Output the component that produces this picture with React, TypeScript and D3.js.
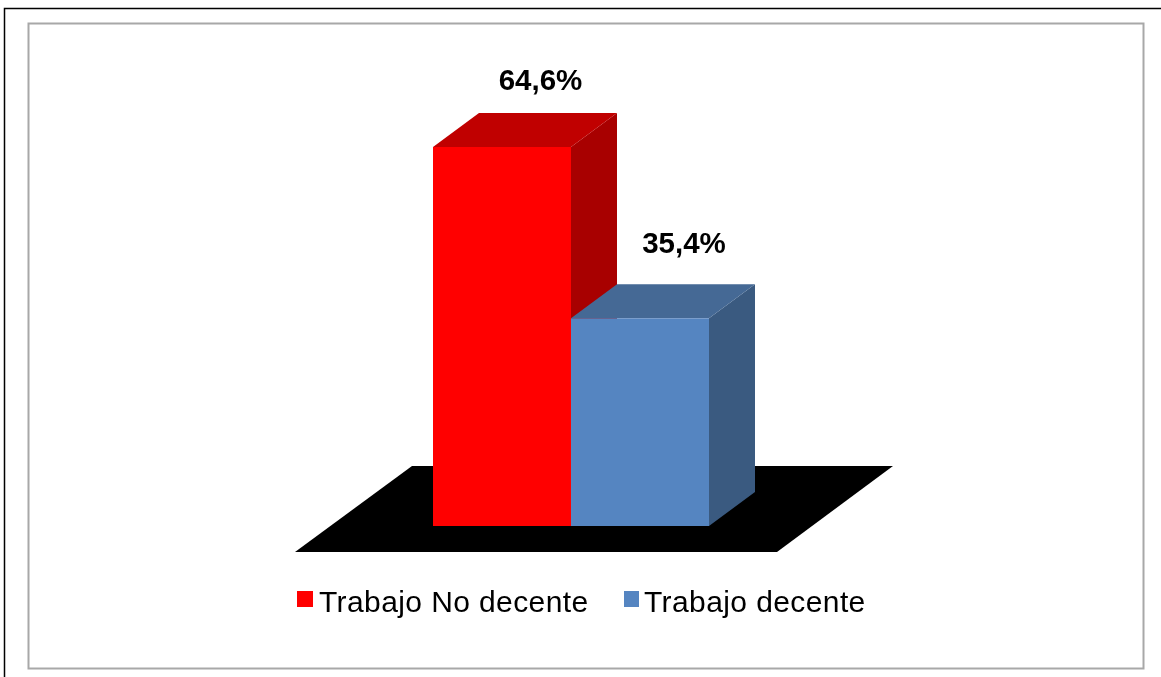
import * as d3 from "d3";

const categories = ["Trabajo No decente", "Trabajo decente"];
const values = [64.6, 35.4];
const labels = ["64,6%", "35,4%"];
const frontColors = ["#ff0000", "#5585c1"];
const topColors = ["#c00000", "#456995"];
const sideColors = ["#a80000", "#3a5a80"];

const width = 1161;
const height = 677;
const font = "'Liberation Sans', Arial, sans-serif";

// depth of the fake 3d box
const depthX = 46;
const depthY = -34;

// data labels sit a bit differently on each bar
const labelDx = [38.5, 44];
const labelDy = [-23.5, -31];

const legendX = [297, 624];
const legendTextX = [319, 644];

export default function App() {
  const x = d3.scaleBand().domain(categories).range([433, 709]).padding(0);
  const y = d3.scaleLinear().domain([0, 64.6]).range([526, 147]);
  const bw = x.bandwidth();
  const line = d3.line();

  // Floor
  const floor = line([
    [295, 552],
    [777, 552],
    [893, 466],
    [412, 466],
  ]) + "Z";

  return (
    <svg
      width={width}
      height={height}
      style={{
        position: "absolute",
        left: 0,
        top: 0,
        display: "block",
        background: "#fff",
        filter: "blur(0.5px)",
      }}
    >
      <path d="M4.5,677V8.5H1161" fill="none" stroke="#000" strokeWidth={1.5} />
      <rect x={28.5} y={23.5} width={1115} height={645} fill="#fff" stroke="#a8a8a8" strokeWidth={2} />

      <path d={floor} fill="#000" />

      {categories.map((c, i) => {
        const x0 = x(c) as number;
        const x1 = x0 + bw;
        const yt = y(values[i]);
        const yb = y(0);
        return (
          <g key={c}>
            <path
              d={line([[x1, yt], [x1 + depthX, yt + depthY], [x1 + depthX, yb + depthY], [x1, yb]]) + "Z"}
              fill={sideColors[i]}
            />
            <path
              d={line([[x0, yt], [x0 + depthX, yt + depthY], [x1 + depthX, yt + depthY], [x1, yt]]) + "Z"}
              fill={topColors[i]}
            />
            <rect x={x0} y={yt} width={bw} height={yb - yt} fill={frontColors[i]} />
          </g>
        );
      })}

      {categories.map((c, i) => (
        <text
          key={c}
          x={(x(c) as number) + bw / 2 + labelDx[i]}
          y={y(values[i]) + depthY + labelDy[i]}
          textAnchor="middle"
          fontFamily={font}
          fontWeight="bold"
          fontSize={29.5}
          fill="#000"
        >
          {labels[i]}
        </text>
      ))}

      {categories.map((c, i) => (
        <g key={c}>
          <rect x={legendX[i]} y={591} width={i === 0 ? 16 : 15} height={16} fill={frontColors[i]} />
          <text
            x={legendTextX[i]}
            y={611.5}
            fontFamily={font}
            fontSize={30}
            letterSpacing={0.4}
            fill="#000"
          >
            {c}
          </text>
        </g>
      ))}
    </svg>
  );
}
